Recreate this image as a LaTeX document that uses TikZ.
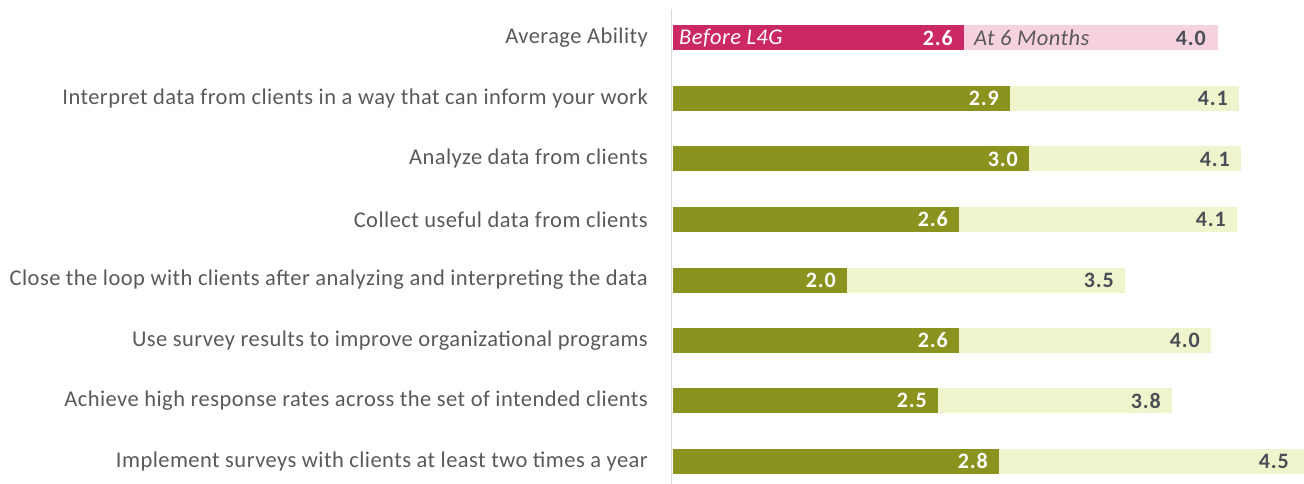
\documentclass[tikz,border=0pt]{standalone}
\usepackage{fontspec}
\setmainfont{Carlito}
\newfontfamily\labfont[LetterSpace=2.0]{Carlito}
\newfontfamily\valfont[LetterSpace=4.0]{Carlito}
\definecolor{olive}{HTML}{8B931F}
\definecolor{olivelt}{HTML}{F0F4CC}
\definecolor{pinkdk}{HTML}{CB2965}
\definecolor{pinklt}{HTML}{F6D2DF}
\definecolor{labgray}{HTML}{595959}
\definecolor{valgray}{HTML}{4A4F57}
\definecolor{axisgray}{HTML}{D9D9D9}
\tikzset{
  rowlabel/.style={anchor=east, inner sep=0pt, text=labgray, font=\labfont\fontsize{22.5}{27}\selectfont},
  valin/.style={anchor=east, inner sep=0pt, text=white, font=\valfont\fontsize{22}{26}\selectfont\bfseries},
  valout/.style={anchor=east, inner sep=0pt, text=valgray, font=\valfont\fontsize{22}{26}\selectfont\bfseries},
  legin/.style={anchor=west, inner sep=0pt, font=\labfont\fontsize{22.5}{27}\selectfont\itshape},
}
\begin{document}
\begin{tikzpicture}[x=1pt,y=-1pt]
\useasboundingbox (0,0) rectangle (1304,484);
\clip (0,0) rectangle (1304,484);
\draw[axisgray, line width=1.6pt] (671.5,9) -- (671.5,484);
% rows: name/center y/dark end/light end/label/v1/v2
\foreach \i/\yc/\d/\l/\lab/\va/\vb in {
 2/98.5/1010/1239/{Interpret data from clients in a way that can inform your work}/2.9/4.1,
 3/159/1029/1241/{Analyze data from clients}/3.0/4.1,
 4/219.5/959/1237/{Collect useful data from clients}/2.6/4.1,
 5/280/847/1125/{Close the loop with clients after analyzing and interpreting the data}/2.0/3.5,
 6/340.5/959/1211/{Use survey results to improve organizational programs}/2.6/4.0,
 7/400.5/938/1172/{Achieve high response rates across the set of intended clients}/2.5/3.8,
 8/461/999/1320/{Implement surveys with clients at least two times a year}/2.8/4.5}{
  \fill[olivelt] (\d,\yc-12.5) rectangle (\l,\yc+12.5);
  \fill[olive] (673,\yc-12.5) rectangle (\d,\yc+12.5);
  \node[rowlabel] (lab\i) at (648,\yc) {\lab};
  \node[valin] (va\i) at (\d-11,\yc) {\va};
  \ifnum\i=8
    \node[valout] (vb\i) at (1289,\yc) {\vb};
  \else
    \node[valout] (vb\i) at (\l-11,\yc) {\vb};
  \fi
}
% average ability row
\fill[pinklt] (964,25.5) rectangle (1218,50.5);
\fill[pinkdk] (673,25.5) rectangle (964,50.5);
\node[rowlabel] (lab1) at (648,38) {Average Ability};
\node[legin, text=white] (leg1) at (679,38) {Before L4G};
\node[legin, text=labgray] (leg2) at (974,38) {At 6 Months};
\node[valin] (va1) at (964-11,38) {2.6};
\node[valout] (vb1) at (1218-12,38) {4.0};
\end{tikzpicture}
\end{document}
